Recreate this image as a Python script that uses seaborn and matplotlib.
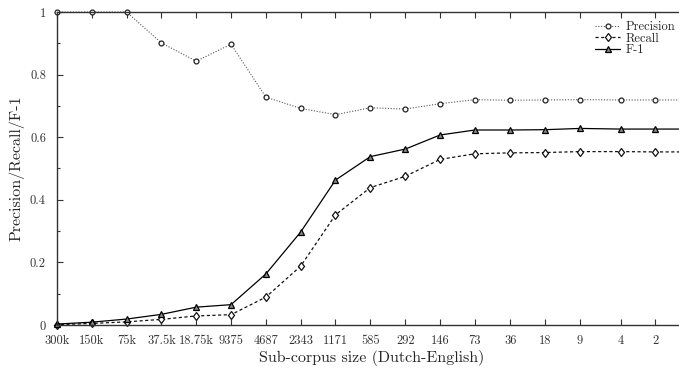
import pandas as pd
import matplotlib
matplotlib.use("Agg")
import matplotlib.pyplot as plt
import seaborn as sns
from matplotlib.ticker import FixedLocator, FixedFormatter, MultipleLocator, NullLocator

# sub-corpus sizes (last one only feeds the line running off the right edge)
sizes = [300000, 150000, 75000, 37500, 18750, 9375, 4687, 2343, 1171,
         585, 292, 146, 73, 36, 18, 9, 4, 2, 1]
size_labels = ["300k", "150k", "75k", "37.5k", "18.75k", "9375", "4687", "2343", "1171",
               "585", "292", "146", "73", "36", "18", "9", "4", "2"]

precision = [1.0, 1.0, 1.0, 0.901, 0.843, 0.897, 0.728, 0.692, 0.672,
             0.694, 0.690, 0.707, 0.720, 0.718, 0.719, 0.720, 0.719, 0.719, 0.719]
recall = [0.001, 0.005, 0.010, 0.018, 0.029, 0.033, 0.089, 0.188, 0.352,
          0.439, 0.475, 0.529, 0.547, 0.550, 0.551, 0.554, 0.554, 0.553, 0.553]
f1 = [0.003, 0.009, 0.019, 0.034, 0.057, 0.065, 0.163, 0.297, 0.463,
      0.538, 0.562, 0.607, 0.623, 0.623, 0.624, 0.628, 0.626, 0.626, 0.626]

sns.set_style("ticks")
plt.rcParams['font.family'] = ['cmr10', 'DejaVu Serif']
plt.rcParams['mathtext.fontset'] = 'cm'
plt.rcParams['axes.unicode_minus'] = False

fig = plt.figure(figsize=(6.79, 3.68), dpi=100)
ax = fig.add_axes([57 / 679, 43 / 368, 1.01 - 57 / 679, (325 - 12) / 368])

df = pd.DataFrame({"size": sizes, "Precision": precision, "Recall": recall, "F-1": f1})

sns.lineplot(data=df, x="size", y="Precision", ax=ax, color="#555555", lw=0.8,
             linestyle=(0, (1, 1.5)), marker="o", markersize=3.5, markerfacecolor="white",
             markeredgecolor="#222222", markeredgewidth=0.9, label="Precision", clip_on=False)
sns.lineplot(data=df, x="size", y="Recall", ax=ax, color="#111111", lw=0.9,
             linestyle=(0, (2.5, 2)), marker="d", markersize=4.5, markerfacecolor="white",
             markeredgecolor="#111111", markeredgewidth=0.9, label="Recall", clip_on=False)
sns.lineplot(data=df, x="size", y="F-1", ax=ax, color="black", lw=0.9,
             linestyle="-", marker="^", markersize=4.5, markerfacecolor="#888888",
             markeredgecolor="black", markeredgewidth=0.9, label="F-1", clip_on=False)

ax.set_xscale("log")
ax.set_xlim(300000, 1.094)
ax.set_ylim(0, 1)

ax.xaxis.set_major_locator(FixedLocator(sizes[:-1]))
ax.xaxis.set_major_formatter(FixedFormatter(size_labels))
ax.xaxis.set_minor_locator(NullLocator())
ax.set_yticks([0, 0.2, 0.4, 0.6, 0.8, 1.0])
ax.set_yticklabels(["0", "0.2", "0.4", "0.6", "0.8", "1"])
ax.yaxis.set_minor_locator(MultipleLocator(0.1))

ax.tick_params(axis="both", which="both", direction="in", top=True, right=False,
               labelsize=9, colors="#333333")
ax.tick_params(axis="x", which="major", length=4, width=0.8, pad=7)
ax.tick_params(axis="y", which="major", length=4, width=0.8, pad=8)
ax.tick_params(axis="y", which="minor", length=2.5, width=0.8)
for s in ax.spines.values():
    s.set_linewidth(1.0)
    s.set_color("#333333")

ax.set_xlabel("Sub-corpus size (Dutch-English)", fontsize=11.5, labelpad=2)
ax.set_ylabel("Precision/Recall/F-1", fontsize=11.5, labelpad=4)

ax.legend(loc="upper right", bbox_to_anchor=(0.995, 0.995), frameon=False, fontsize=9,
          handlelength=2.0, handletextpad=0.4, labelspacing=-0.05, borderaxespad=0.2)

fig.savefig("out.png", dpi=100)
